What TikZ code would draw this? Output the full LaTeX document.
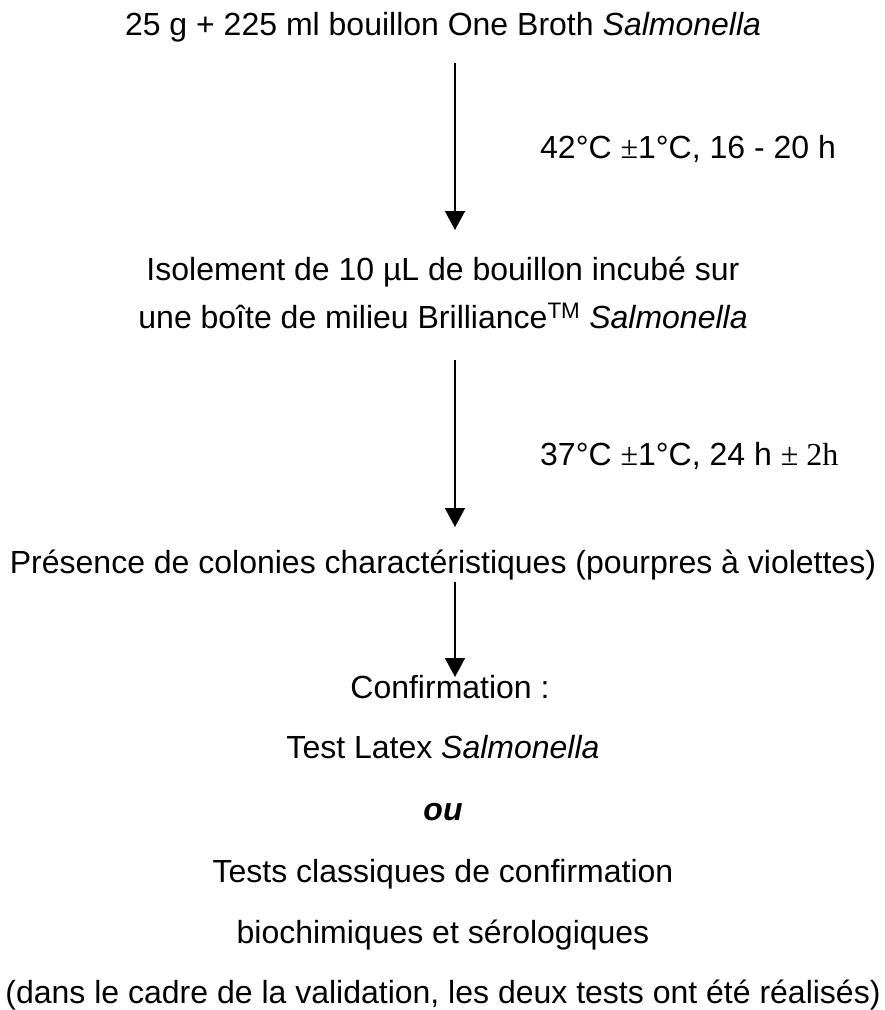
\documentclass[tikz,border=0pt]{standalone}
\usepackage{fontspec}
\setmainfont{Liberation Sans}
\newfontfamily\symfont{Liberation Serif}
\usetikzlibrary{arrows.meta}
\tikzset{
  txt/.style={inner sep=0pt, anchor=base, font=\fontsize{32}{38}\selectfont},
  lbl/.style={inner sep=0pt, anchor=base west, font=\fontsize{32}{38}\selectfont},
  flow/.style={line width=1.5pt, -{Triangle[width=20pt,length=19pt]}}
}
\begin{document}
\begin{tikzpicture}[x=1pt,y=1pt]
\useasboundingbox (0,0) rectangle (885,-1010);
\node[txt] (l1) at (443,-35) {25 g + 225 ml bouillon One Broth \textit{Salmonella}};
\coordinate (a1s) at (455,-63);
\coordinate (a1e) at (455,-230);
\draw[flow] (a1s) -- (a1e);
\node[lbl] (c1) at (540,-158) {42°C {\symfont ±}1°C, 16 - 20 h};
\node[txt] (l2) at (443,-280) {Isolement de 10 µL de bouillon incubé sur};
\node[txt] (l3) at (443,-328) {une boîte de milieu Brilliance\textsuperscript{TM} \textit{Salmonella}};
\coordinate (a2s) at (455,-360);
\coordinate (a2e) at (455,-527);
\draw[flow] (a2s) -- (a2e);
\node[lbl] (c2) at (540,-465) {37°C {\symfont ±}1°C, 24 h {\symfont ± 2h}};
\node[txt] (l4) at (443,-573) {Présence de colonies charactéristiques (pourpres à violettes)};
\coordinate (a3s) at (455,-582);
\coordinate (a3e) at (455,-677);
\draw[flow] (a3s) -- (a3e);
\node[txt] (l5) at (450,-698) {Confirmation :};
\node[txt] (l6) at (443,-758) {Test Latex \textit{Salmonella}};
\node[txt] (l7) at (443,-820) {\textbf{\textit{ou}}};
\node[txt] (l8) at (443,-882) {Tests classiques de confirmation};
\node[txt] (l9) at (443,-943) {biochimiques et sérologiques};
\node[txt] (l10) at (443,-1003) {(dans le cadre de la validation, les deux tests ont été réalisés)};
\end{tikzpicture}
\end{document}
